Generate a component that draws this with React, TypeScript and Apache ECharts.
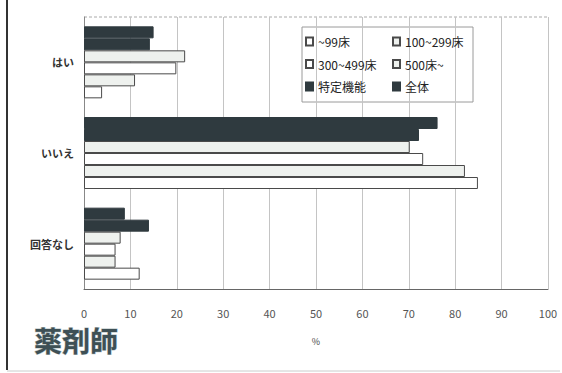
import React, { useEffect, useRef } from "react";
import * as echarts from "echarts";

const categories = ["はい", "いいえ", "回答なし"];
const xTicks = [0, 10, 20, 30, 40, 50, 60, 70, 80, 90, 100];
const seriesNames = ["~99床", "100~299床", "300~499床", "500床~", "特定機能", "全体"];
const s99 = [3.9, 84.9, 12.0];
const s100 = [11.0, 82.1, 6.8];
const s300 = [19.9, 73.1, 6.8];
const s500 = [21.8, 70.2, 7.9];
const sTokutei = [14.2, 72.2, 14.0];
const sAll = [15.0, 76.2, 8.8];
const legendLeft = ["~99床", "300~499床", "特定機能"];
const legendRight = ["100~299床", "500床~", "全体"];

const FONT = "'Noto Sans CJK JP', 'Noto Sans', sans-serif";
const DARK = "#2f3a3f";

export default function App() {
  const ref = useRef<HTMLDivElement>(null);
  useEffect(() => {
    document.body.style.margin = "0";
    const chart = echarts.init(ref.current!, null, { renderer: "svg" });
    const mk = (name: string, data: number[], fill: string, border: string) => ({
      name,
      type: "bar",
      data,
      barWidth: 12,
      barGap: "0%",
      itemStyle: { color: fill, borderColor: border, borderWidth: 1 },
    });
    const seriesData = [s99, s100, s300, s500, sTokutei, sAll];
    const fills = ["#ffffff", "#eef1ee", "#ffffff", "#eef1ee", DARK, DARK];
    const series = seriesNames
      .map((n, i) => mk(n, seriesData[i], fills[i], i >= 4 ? DARK : "#4a4a4a"))
      .reverse();
    const legendCommon = {
      orient: "vertical",
      icon: "rect",
      itemWidth: 7,
      itemHeight: 8,
      itemGap: 8.5,
      padding: 0,
      textStyle: { fontFamily: FONT, fontSize: 12, color: "#222", lineHeight: 14 },
    };
    chart.setOption({
      animation: false,
      backgroundColor: "#ffffff",
      grid: { left: 84, right: 14, top: 17, bottom: 84, containLabel: false },
      xAxis: {
        type: "value",
        min: 0,
        max: 100,
        interval: 10,
        name: "%",
        nameLocation: "middle",
        nameGap: 48,
        nameTextStyle: { fontSize: 9, color: "#444", fontFamily: FONT },
        axisLine: { show: true, lineStyle: { color: "#666", width: 1 } },
        axisTick: { show: false },
        axisLabel: {
          margin: 18,
          fontSize: 11,
          color: "#555",
          fontFamily: FONT,
          formatter: (v: number) => (xTicks.includes(v) ? String(v) : ""),
        },
        splitLine: { show: true, lineStyle: { color: "#c4c4c4", width: 1 } },
      },
      yAxis: {
        type: "category",
        data: categories,
        inverse: true,
        axisLine: { show: true, lineStyle: { color: "#888", width: 1 } },
        axisTick: { show: false },
        axisLabel: { margin: 10, fontSize: 11, fontWeight: "bold", color: "#333", fontFamily: FONT },
        splitLine: { show: false },
      },
      legend: [
        { ...legendCommon, data: legendLeft, left: 305, top: 34.5 },
        { ...legendCommon, data: legendRight, left: 392, top: 34.5 },
      ],
      graphic: [
        {
          type: "rect",
          shape: { x: 302, y: 27, width: 171, height: 75 },
          style: { fill: "#ffffff", stroke: "#9a9a9a", lineWidth: 1 },
        },
        {
          type: "line",
          shape: { x1: 84, y1: 17, x2: 548, y2: 17 },
          style: { stroke: "#aaa", lineWidth: 1, lineDash: [3, 2] },
        },
        {
          type: "line",
          shape: { x1: 7, y1: 0, x2: 7, y2: 370 },
          style: { stroke: "#333", lineWidth: 2 },
        },
        {
          type: "line",
          shape: { x1: 7, y1: 371, x2: 560, y2: 371 },
          style: { stroke: "#ccc", lineWidth: 1 },
        },
        {
          type: "text",
          x: 34,
          y: 326,
          style: {
            text: "薬剤師",
            fontSize: 28,
            fontWeight: "bold",
            fontFamily: FONT,
            fill: "#3e5055",
            stroke: "#b8c4c4",
            lineWidth: 1,
          },
        },
      ],
      series,
    });
    return () => chart.dispose();
  }, []);
  return <div ref={ref} style={{ width: 562, height: 373 }} />;
}
